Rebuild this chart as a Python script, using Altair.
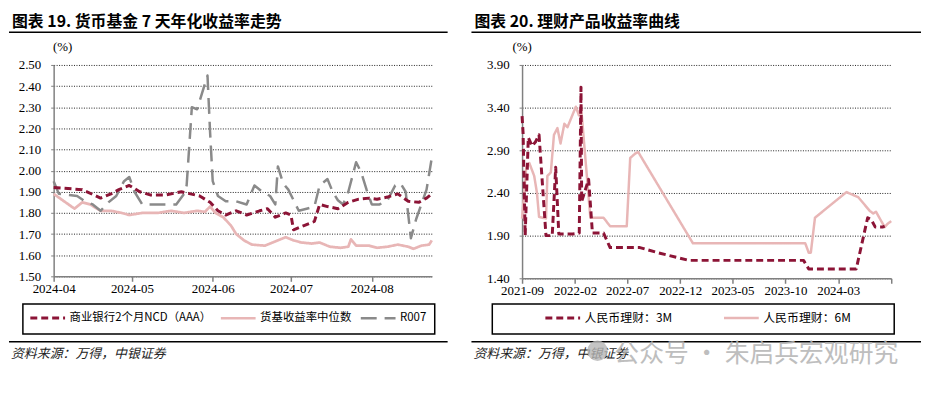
import altair as alt
import pandas as pd

# ---------------- Left chart data: 货币基金 7 天年化收益率 ----------------
left_series = ["商业银行2个月NCD（AAA）", "货基收益率中位数", "R007"]

ncd_dates = ["2024-04-01", "2024-04-12", "2024-04-19", "2024-04-23", "2024-04-26", "2024-04-30",
             "2024-05-04", "2024-05-08", "2024-05-14", "2024-05-20", "2024-05-27", "2024-05-31",
             "2024-06-03", "2024-06-06", "2024-06-10", "2024-06-14", "2024-06-19", "2024-06-22",
             "2024-06-25", "2024-06-29", "2024-07-01", "2024-07-02", "2024-07-06", "2024-07-10",
             "2024-07-12", "2024-07-15", "2024-07-19", "2024-07-23", "2024-07-27", "2024-07-31",
             "2024-08-03", "2024-08-07", "2024-08-11", "2024-08-15", "2024-08-19", "2024-08-22",
             "2024-08-24"]
ncd_values = [1.92, 1.91, 1.87, 1.89, 1.91, 1.93,
              1.90, 1.885, 1.885, 1.90, 1.88, 1.85,
              1.81, 1.79, 1.81, 1.79, 1.81, 1.82,
              1.78, 1.80, 1.79, 1.72, 1.74, 1.76,
              1.84, 1.83, 1.82, 1.85, 1.865, 1.87,
              1.865, 1.875, 1.89, 1.855, 1.85, 1.87,
              1.89]

med_dates = ["2024-04-01", "2024-04-09", "2024-04-12", "2024-04-15", "2024-04-19", "2024-04-23",
             "2024-04-27", "2024-04-30", "2024-05-05", "2024-05-11", "2024-05-16", "2024-05-21",
             "2024-05-26", "2024-05-29", "2024-05-31", "2024-06-02", "2024-06-05", "2024-06-08",
             "2024-06-10", "2024-06-13", "2024-06-16", "2024-06-21", "2024-06-24", "2024-06-27",
             "2024-06-29", "2024-07-02", "2024-07-05", "2024-07-09", "2024-07-12", "2024-07-16",
             "2024-07-20", "2024-07-23", "2024-07-24", "2024-07-26", "2024-07-31", "2024-08-03",
             "2024-08-07", "2024-08-11", "2024-08-15", "2024-08-17", "2024-08-20", "2024-08-23",
             "2024-08-24"]
med_values = [1.89, 1.82, 1.85, 1.84, 1.81, 1.81,
              1.80, 1.79, 1.80, 1.80, 1.81, 1.80,
              1.81, 1.805, 1.83, 1.80, 1.78, 1.74,
              1.70, 1.67, 1.65, 1.645, 1.66, 1.675,
              1.685, 1.67, 1.66, 1.655, 1.66, 1.64,
              1.635, 1.64, 1.675, 1.645, 1.645, 1.635,
              1.64, 1.65, 1.64, 1.63, 1.645, 1.65,
              1.67]

r007_dates = ["2024-04-01", "2024-04-03", "2024-04-07", "2024-04-10", "2024-04-13", "2024-04-16",
              "2024-04-19", "2024-04-22", "2024-04-25", "2024-04-28", "2024-04-30", "2024-05-02",
              "2024-05-05", "2024-05-11", "2024-05-15", "2024-05-18", "2024-05-21", "2024-05-22",
              "2024-05-24", "2024-05-26", "2024-05-28", "2024-05-30", "2024-05-31", "2024-06-01",
              "2024-06-03", "2024-06-06", "2024-06-10", "2024-06-14", "2024-06-17", "2024-06-20",
              "2024-06-23", "2024-06-25", "2024-06-26", "2024-06-28", "2024-06-30", "2024-07-02",
              "2024-07-04", "2024-07-07", "2024-07-10", "2024-07-12", "2024-07-15", "2024-07-17",
              "2024-07-19", "2024-07-21", "2024-07-23", "2024-07-26", "2024-07-28", "2024-07-30",
              "2024-08-01", "2024-08-04", "2024-08-07", "2024-08-10", "2024-08-12", "2024-08-14",
              "2024-08-16", "2024-08-18", "2024-08-20", "2024-08-22", "2024-08-24"]
r007_values = [1.95, 1.89, 1.885, 1.88, 1.855, 1.84,
               1.81, 1.85, 1.88, 1.95, 1.97, 1.90,
               1.84, 1.84, 1.84, 1.84, 1.89, 1.93,
               2.30, 2.29, 2.37, 2.45, 2.18, 1.95,
               1.88, 1.855, 1.855, 1.84, 1.93, 1.90,
               1.88, 1.84, 2.02, 1.94, 1.91, 1.86,
               1.81, 1.82, 1.83, 1.93, 1.96, 1.90,
               1.86, 1.84, 1.90, 2.04, 1.99, 1.91,
               1.84, 1.84, 1.86, 1.93, 1.94, 1.90,
               1.68, 1.77, 1.84, 1.91, 2.06]

left_colors = ["#8c1436", "#e8b6b6", "#8a8a8a"]
left_dashes = [[7, 4], [1, 0], [16, 8]]
left_widths = [3, 2.5, 3]
left_y_ticks = [1.5, 1.6, 1.7, 1.8, 1.9, 2.0, 2.1, 2.2, 2.3, 2.4, 2.5]

# ---------------- Right chart data: 理财产品收益率曲线 ----------------
right_series = ["人民币理财：3M", "人民币理财：6M"]

m3_dates = ["2021-09-01", "2021-09-04", "2021-09-10", "2021-09-19", "2021-09-30", "2021-10-10",
            "2021-10-20", "2021-11-09", "2021-11-27", "2021-12-07", "2021-12-16", "2022-01-25",
            "2022-02-13", "2022-02-18", "2022-02-20", "2022-03-12", "2022-03-23", "2022-04-24",
            "2022-05-13", "2022-08-07", "2022-09-28", "2022-12-26", "2023-11-22", "2023-12-07",
            "2024-04-22", "2024-05-25", "2024-06-04", "2024-06-16", "2024-07-07", "2024-07-13"]
m3_values = [3.30, 3.10, 1.90, 3.05, 2.95, 3.00,
             3.08, 1.90, 1.90, 2.70, 1.92, 1.92,
             1.93, 3.64, 2.30, 2.56, 1.93, 1.93,
             1.76, 1.76, 1.70, 1.61, 1.61, 1.51,
             1.51, 2.11, 2.09, 2.00, 2.00, 2.01]

m6_dates = ["2021-09-01", "2021-09-13", "2021-09-22", "2021-10-06", "2021-10-14", "2021-10-20",
            "2021-11-09", "2021-11-13", "2021-11-23", "2021-12-02", "2021-12-12", "2021-12-21",
            "2022-01-01", "2022-01-10", "2022-02-03", "2022-02-12", "2022-02-18", "2022-03-17",
            "2022-04-24", "2022-05-13", "2022-06-30", "2022-07-10", "2022-07-24", "2022-08-02",
            "2023-01-07", "2023-11-27", "2023-12-07", "2023-12-13", "2023-12-25", "2024-03-25",
            "2024-04-28", "2024-05-31", "2024-06-10", "2024-06-18", "2024-07-13", "2024-07-22",
            "2024-08-01"]
m6_values = [2.10, 2.70, 2.75, 2.60, 2.40, 2.12,
             2.10, 2.60, 2.64, 3.08, 3.16, 2.98,
             3.21, 3.17, 3.41, 3.31, 3.42, 2.11,
             2.11, 2.01, 2.01, 2.81, 2.86, 2.88,
             1.81, 1.81, 1.70, 1.70, 2.11, 2.41,
             2.35, 2.19, 2.16, 2.18, 2.00, 2.04,
             2.07]

right_colors = ["#8c1436", "#e8b6b6"]
right_dashes = [[7, 4], [1, 0]]
right_widths = [3, 2.5]
right_y_ticks = [1.4, 1.9, 2.4, 2.9, 3.4, 3.9]

source_text = "资料来源：万得，中银证券"
watermark_text = "公众号 · 朱启兵宏观研究"


def long_frame(names, dates_list, values_list):
    rows = []
    for name, ds, vs in zip(names, dates_list, values_list):
        for d, v in zip(ds, vs):
            rows.append({"series": name, "date": d, "value": v})
    df = pd.DataFrame(rows)
    df["date"] = pd.to_datetime(df["date"])
    return df


# draw order: median, R007, NCD (NCD on top)
left_df = long_frame([left_series[1], left_series[2], left_series[0]],
                     [med_dates, r007_dates, ncd_dates],
                     [med_values, r007_values, ncd_values])
right_df = long_frame([right_series[1], right_series[0]],
                      [m6_dates, m3_dates], [m6_values, m3_values])

SERIF = "Liberation Serif"
CJK = "Noto Sans CJK SC"
GRAY = "#808080"
one = alt.Data(values=[{"k": 1}])


def legend(x, y, colpad, fsize):
    return alt.Legend(title=None, orient="none", legendX=x, legendY=y, direction="horizontal",
                      columns=3, symbolType="stroke", symbolSize=1225, symbolStrokeWidth=3,
                      labelFont=CJK, labelFontSize=fsize, labelColor="#000", labelOffset=3,
                      columnPadding=colpad, padding=0)


def y_axis(ticks):
    return alt.Axis(values=ticks, format=".2f", title=None, grid=True, gridColor="#222",
                    gridDash=[1, 1.5], gridWidth=1, domainColor=GRAY, domainWidth=1.5,
                    tickColor=GRAY, tickSize=3, labelPadding=10, labelFont=SERIF,
                    labelFontSize=13, labelColor="#000")


def x_axis(values, label_expr=None):
    kw = dict(values=values, title=None, grid=False, domainColor=GRAY, domainWidth=1.5,
              tickColor=GRAY, tickSize=5, tickWidth=1.5, labelPadding=1, labelFont=SERIF,
              labelFontSize=13, labelColor="#000", labelOverlap=False, labelFlush=False)
    if label_expr:
        kw["labelExpr"] = label_expr
    else:
        kw["format"] = "%Y-%m"
    return alt.Axis(**kw)


def decorations(title, rule_x0, rule_x1, box_x0, box_x1, pct_x, watermark=False):
    layers = [
        alt.Chart(one).mark_text(text=title, align="left", baseline="middle", font=CJK,
                                 fontSize=16, fontWeight="bold", color="#000").encode(
            x=alt.value(rule_x0 + 3), y=alt.value(-43)),
        alt.Chart(one).mark_rule(color="#000", strokeWidth=1.5).encode(
            x=alt.value(rule_x0), x2=alt.value(rule_x1), y=alt.value(-33)),
        alt.Chart(one).mark_text(text="(%)", align="center", baseline="middle", font=SERIF,
                                 fontSize=13, color="#000").encode(
            x=alt.value(pct_x), y=alt.value(-18)),
        alt.Chart(one).mark_rect(fillOpacity=0, stroke="#000", strokeWidth=1.5).encode(
            x=alt.value(box_x0), x2=alt.value(box_x1), y=alt.value(241), y2=alt.value(271)),
        alt.Chart(one).mark_rule(color="#000", strokeWidth=1.5).encode(
            x=alt.value(rule_x0), x2=alt.value(rule_x1), y=alt.value(279)),
        alt.Chart(one).mark_text(text=source_text, align="left", baseline="middle", font=CJK,
                                 fontSize=13, fontStyle="italic", color="#222").encode(
            x=alt.value(rule_x0 + 2), y=alt.value(291)),
    ]
    if watermark:
        layers.append(
            alt.Chart(one).mark_point(shape="circle", filled=True, size=420, color="#b5b5b5",
                                      opacity=0.8).encode(x=alt.value(76), y=alt.value(288)))
        layers.append(
            alt.Chart(one).mark_text(text=watermark_text, align="left", baseline="middle",
                                     font=CJK, fontSize=25, color="#b3b3b3", opacity=0.85).encode(
                x=alt.value(93), y=alt.value(291)))
    return layers


left_lines = alt.Chart(left_df).mark_line(strokeCap="butt", strokeJoin="round").encode(
    x=alt.X("date:T",
            scale=alt.Scale(domain=[alt.DateTime(year=2024, month=4, date=1),
                                    alt.DateTime(year=2024, month=8, date=24)]),
            axis=x_axis([alt.DateTime(year=2024, month=m, date=1) for m in range(4, 9)])),
    y=alt.Y("value:Q", scale=alt.Scale(domain=[1.5, 2.5], nice=False, zero=False),
            axis=y_axis(left_y_ticks)),
    color=alt.Color("series:N", scale=alt.Scale(domain=left_series, range=left_colors),
                    legend=legend(-25, 236, 4, 11.5)),
    strokeDash=alt.StrokeDash("series:N", scale=alt.Scale(domain=left_series, range=left_dashes),
                              legend=legend(-25, 236, 4, 11.5)),
    strokeWidth=alt.StrokeWidth("series:N", scale=alt.Scale(domain=left_series, range=left_widths),
                                legend=None),
)

left = alt.layer(left_lines, *decorations("图表 19. 货币基金 7 天年化收益率走势", -45, 397, -31, 384, 9)
                 ).properties(width=381, height=213)

right_ticks = [alt.DateTime(year=2021, month=9, date=1),
               alt.DateTime(year=2022, month=2, date=1),
               alt.DateTime(year=2022, month=7, date=1),
               alt.DateTime(year=2022, month=12, date=1),
               alt.DateTime(year=2023, month=5, date=1),
               alt.DateTime(year=2023, month=10, date=1),
               alt.DateTime(year=2024, month=3, date=1),
               alt.DateTime(year=2024, month=8, date=1)]

right_lines = alt.Chart(right_df).mark_line(strokeCap="butt", strokeJoin="round").encode(
    x=alt.X("date:T",
            scale=alt.Scale(domain=[alt.DateTime(year=2021, month=9, date=1),
                                    alt.DateTime(year=2024, month=8, date=1)]),
            axis=x_axis(right_ticks,
                        "timeFormat(datum.value, '%Y-%m') == '2024-08' ? '' : timeFormat(datum.value, '%Y-%m')")),
    y=alt.Y("value:Q", scale=alt.Scale(domain=[1.4, 3.9], nice=False, zero=False),
            axis=y_axis(right_y_ticks)),
    color=alt.Color("series:N", scale=alt.Scale(domain=right_series, range=right_colors),
                    legend=legend(22, 236, 46, 12)),
    strokeDash=alt.StrokeDash("series:N", scale=alt.Scale(domain=right_series, range=right_dashes),
                              legend=legend(22, 236, 46, 12)),
    strokeWidth=alt.StrokeWidth("series:N", scale=alt.Scale(domain=right_series, range=right_widths),
                                legend=None),
)

right = alt.layer(right_lines, *decorations("图表 20. 理财产品收益率曲线", -51, 402, -30, 375, 0,
                                            watermark=True)
                  ).properties(width=372, height=215)

chart = (alt.hconcat(left, right, spacing=22)
         .resolve_scale(color="independent", strokeDash="independent", strokeWidth="independent")
         .resolve_legend(color="independent", strokeDash="independent")
         .properties(padding={"left": 0, "top": 5, "right": 0, "bottom": 0})
         .configure_view(stroke=None))

chart.save("out.html", embed_options={"renderer": "svg", "actions": False})
